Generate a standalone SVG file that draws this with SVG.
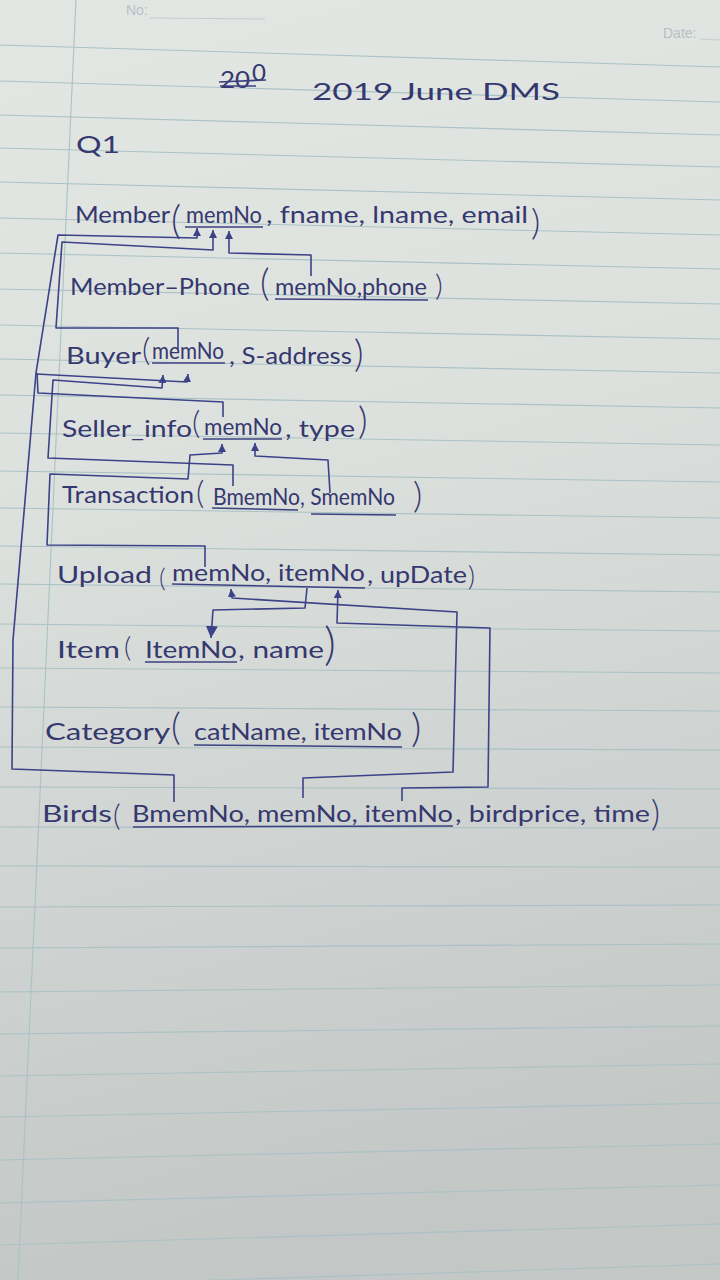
<svg xmlns="http://www.w3.org/2000/svg" width="720" height="1280" viewBox="0 0 720 1280">
  <defs>
    <linearGradient id="paper" x1="0" y1="0" x2="0.15" y2="1">
      <stop offset="0" stop-color="#e3e7e4"/>
      <stop offset="0.4" stop-color="#dde1de"/>
      <stop offset="0.7" stop-color="#cfd3d1"/>
      <stop offset="1" stop-color="#c3c7c5"/>
    </linearGradient>
    <marker id="ah" viewBox="0 0 10 10" refX="10" refY="5" markerWidth="8" markerHeight="8" markerUnits="userSpaceOnUse" orient="auto">
      <path d="M0,0 L10,5 L0,10 z" fill="#3c4288"/>
    </marker>
    <marker id="ahb" viewBox="0 0 10 10" refX="10" refY="5" markerWidth="12" markerHeight="12" markerUnits="userSpaceOnUse" orient="auto">
      <path d="M0,0 L10,5 L0,10 z" fill="#3c4288"/>
    </marker>
    <style>
      .rule { stroke:#a9c2c6; stroke-width:1.1; fill:none; }
      .faint { fill:#b6c0c4; font-family:"Liberation Sans", Arial, sans-serif; font-size:14px; }
      .ink { fill:#35386f; font-family:Lato, "DejaVu Sans", sans-serif; font-size:24px; font-weight:400; }
      .par { fill:#35386f; font-family:Lato, "DejaVu Sans", sans-serif; font-weight:300; }
      .ul { stroke:#3c4080; stroke-width:1.5; fill:none; }
      .conn { stroke:#3c4288; stroke-width:1.6; fill:none; stroke-linejoin:round; }
    </style>
  </defs>

  <!-- paper -->
  <rect x="0" y="0" width="720" height="1280" fill="url(#paper)"/>

  <!-- ruled lines -->
  <g id="ruling">
    <line class="rule" x1="0" y1="45" x2="720" y2="67"/>
    <line class="rule" x1="0" y1="81" x2="720" y2="102"/>
    <line class="rule" x1="0" y1="115" x2="720" y2="135"/>
    <line class="rule" x1="0" y1="148" x2="720" y2="167"/>
    <line class="rule" x1="0" y1="182" x2="720" y2="200"/>
    <line class="rule" x1="0" y1="218" x2="720" y2="235"/>
    <line class="rule" x1="0" y1="253" x2="720" y2="269"/>
    <line class="rule" x1="0" y1="289" x2="720" y2="304"/>
    <line class="rule" x1="0" y1="325" x2="720" y2="339"/>
    <line class="rule" x1="0" y1="359" x2="720" y2="373"/>
    <line class="rule" x1="0" y1="395" x2="720" y2="408"/>
    <line class="rule" x1="0" y1="433" x2="720" y2="445"/>
    <line class="rule" x1="0" y1="471" x2="720" y2="482"/>
    <line class="rule" x1="0" y1="508" x2="720" y2="518"/>
    <line class="rule" x1="0" y1="546" x2="720" y2="555"/>
    <line class="rule" x1="0" y1="584" x2="720" y2="592"/>
    <line class="rule" x1="0" y1="624" x2="720" y2="631"/>
    <line class="rule" x1="0" y1="668" x2="720" y2="673"/>
    <line class="rule" x1="0" y1="707" x2="720" y2="711"/>
    <line class="rule" x1="0" y1="747" x2="720" y2="750"/>
    <line class="rule" x1="0" y1="787" x2="720" y2="789"/>
    <line class="rule" x1="0" y1="827" x2="720" y2="828"/>
    <line class="rule" x1="0" y1="866" x2="720" y2="867"/>
    <line class="rule" x1="0" y1="907" x2="720" y2="905"/>
    <line class="rule" x1="0" y1="948" x2="720" y2="944"/>
    <line class="rule" x1="0" y1="992" x2="720" y2="985"/>
    <line class="rule" x1="0" y1="1034" x2="720" y2="1026"/>
    <line class="rule" x1="0" y1="1076" x2="720" y2="1064"/>
    <line class="rule" x1="0" y1="1117" x2="720" y2="1103"/>
    <line class="rule" x1="0" y1="1160" x2="720" y2="1144"/>
    <line class="rule" x1="0" y1="1203" x2="720" y2="1185"/>
    <line class="rule" x1="0" y1="1245" x2="720" y2="1224"/>
    <line class="rule" x1="0" y1="1287" x2="720" y2="1264"/>
    <!-- margin -->
    <line class="rule" x1="76" y1="0" x2="18" y2="1280"/>
  </g>

  <!-- printed page header -->
  <g id="header">
    <text class="faint" x="126" y="15">No:</text>
    <line x1="150" y1="18" x2="265" y2="19" stroke="#c3cccf" stroke-width="1"/>
    <text class="faint" x="663" y="38" font-size="13">Date:</text>
    <line x1="700" y1="39" x2="720" y2="40" stroke="#c3cccf" stroke-width="1"/>
  </g>

  <!-- title -->
  <g id="title">
    <text class="ink" x="220" y="88" font-size="17" textLength="30" lengthAdjust="spacingAndGlyphs">20</text>
    <text class="ink" x="252" y="81" font-size="11">0</text>
    <line x1="219" y1="82" x2="266" y2="80" stroke="#3c4080" stroke-width="1.6"/>
    <line x1="220" y1="86" x2="256" y2="86" stroke="#3c4080" stroke-width="1.4"/>
    <text class="ink" x="312" y="100" font-size="28" textLength="248" lengthAdjust="spacingAndGlyphs">2019 June DMS</text>
    <text class="ink" x="76" y="153" font-size="23" textLength="44" lengthAdjust="spacingAndGlyphs">Q1</text>
  </g>

  <!-- relations -->
  <g id="member">
    <text class="ink" x="75" y="223" textLength="95" lengthAdjust="spacingAndGlyphs">Member</text>
    <text class="par" x="171" y="234" font-size="39">(</text>
    <text class="ink" x="186" y="223" textLength="76" lengthAdjust="spacingAndGlyphs">memNo</text>
    <text class="ink" x="266" y="223" textLength="262" lengthAdjust="spacingAndGlyphs">, fname, lname, email</text>
    <text class="par" x="531" y="235" font-size="36">)</text>
    <line class="ul" x1="185" y1="227" x2="263" y2="227"/>
  </g>

  <g id="member-phone">
    <text class="ink" x="70" y="295" textLength="180" lengthAdjust="spacingAndGlyphs">Member–Phone</text>
    <text class="par" x="260" y="296" font-size="37">(</text>
    <text class="ink" x="275" y="295" textLength="152" lengthAdjust="spacingAndGlyphs">memNo,phone</text>
    <text class="par" x="435" y="296" font-size="30">)</text>
    <line class="ul" x1="275" y1="299" x2="428" y2="300"/>
  </g>

  <g id="buyer">
    <text class="ink" x="66" y="364" textLength="75" lengthAdjust="spacingAndGlyphs">Buyer</text>
    <text class="par" x="142" y="361" font-size="32">(</text>
    <text class="ink" x="152" y="359" font-size="18" textLength="72" lengthAdjust="spacingAndGlyphs">memNo</text>
    <text class="ink" x="229" y="364" textLength="123" lengthAdjust="spacingAndGlyphs">, S-address</text>
    <text class="par" x="354" y="367" font-size="37">)</text>
    <line class="ul" x1="152" y1="363" x2="225" y2="363"/>
  </g>

  <g id="seller-info">
    <text class="ink" x="62" y="437" textLength="130" lengthAdjust="spacingAndGlyphs">Seller_info</text>
    <text class="par" x="192" y="434" font-size="32">(</text>
    <text class="ink" x="204" y="435" textLength="78" lengthAdjust="spacingAndGlyphs">memNo</text>
    <text class="ink" x="285" y="437" textLength="70" lengthAdjust="spacingAndGlyphs">, type</text>
    <text class="par" x="358" y="434" font-size="37">)</text>
    <line class="ul" x1="203" y1="439" x2="282" y2="439"/>
  </g>

  <g id="transaction">
    <text class="ink" x="62" y="503" textLength="132" lengthAdjust="spacingAndGlyphs">Transaction</text>
    <text class="par" x="196" y="504" font-size="32">(</text>
    <text class="ink" x="213" y="505" font-size="18" textLength="182" lengthAdjust="spacingAndGlyphs">BmemNo, SmemNo</text>
    <text class="par" x="413" y="508" font-size="36">)</text>
    <line class="ul" x1="212" y1="508" x2="298" y2="510"/>
    <line class="ul" x1="311" y1="514" x2="396" y2="515"/>
  </g>

  <g id="upload">
    <text class="ink" x="57" y="583" textLength="95" lengthAdjust="spacingAndGlyphs">Upload</text>
    <text class="par" x="159" y="587" font-size="26">(</text>
    <text class="ink" x="172" y="581" textLength="193" lengthAdjust="spacingAndGlyphs">memNo, itemNo</text>
    <text class="ink" x="367" y="583" textLength="100" lengthAdjust="spacingAndGlyphs">, upDate</text>
    <text class="par" x="468" y="586" font-size="27">)</text>
    <line class="ul" x1="172" y1="584" x2="365" y2="588"/>
  </g>

  <g id="item">
    <text class="ink" x="57" y="658" textLength="63" lengthAdjust="spacingAndGlyphs">Item</text>
    <text class="par" x="124" y="657" font-size="28">(</text>
    <text class="ink" x="145" y="658" textLength="92" lengthAdjust="spacingAndGlyphs">ItemNo</text>
    <text class="ink" x="238" y="658" textLength="86" lengthAdjust="spacingAndGlyphs">, name</text>
    <text class="par" x="324" y="660" font-size="46">)</text>
    <line class="ul" x1="145" y1="662" x2="237" y2="662"/>
  </g>

  <g id="category">
    <text class="ink" x="45" y="740" textLength="125" lengthAdjust="spacingAndGlyphs">Category</text>
    <text class="par" x="171" y="740" font-size="38">(</text>
    <text class="ink" x="194" y="740" textLength="208" lengthAdjust="spacingAndGlyphs">catName, itemNo</text>
    <text class="par" x="411" y="742" font-size="40">)</text>
    <line class="ul" x1="194" y1="745" x2="402" y2="747"/>
  </g>

  <g id="birds">
    <text class="ink" x="42" y="822" textLength="70" lengthAdjust="spacingAndGlyphs">Birds</text>
    <text class="par" x="113" y="826" font-size="29">(</text>
    <text class="ink" x="132" y="822" textLength="321" lengthAdjust="spacingAndGlyphs">BmemNo, memNo, itemNo</text>
    <text class="ink" x="455" y="822" textLength="195" lengthAdjust="spacingAndGlyphs">, birdprice, time</text>
    <text class="par" x="651" y="826" font-size="35">)</text>
    <line class="ul" x1="133" y1="827" x2="453" y2="826"/>
  </g>

  <!-- foreign key connectors -->
  <g id="connectors">
    <!-- Birds.BmemNo up the left edge to Member.memNo -->
    <path class="conn" marker-end="url(#ah)" d="M174,802 L174,775 L12,769 L13,640 L36,373 L58,235 L197,238 L197,228"/>
    <!-- branch to Buyer.memNo -->
    <path class="conn" marker-end="url(#ah)" d="M36,374 L187,382 L188,374"/>
    <!-- Buyer.memNo to Member.memNo -->
    <path class="conn" marker-end="url(#ah)" d="M178,350 L178,328 L56,328 L62,242 L213,250 L213,230"/>
    <!-- Member_Phone.memNo to Member.memNo -->
    <path class="conn" marker-end="url(#ah)" d="M311,276 L311,255 L229,253 L229,231"/>
    <!-- Seller_info.memNo joins the left trunk -->
    <path class="conn" d="M223,417 L223,402 L38,393 L37,373"/>
    <!-- Transaction.BmemNo to Buyer.memNo -->
    <path class="conn" marker-end="url(#ah)" d="M233,486 L233,465 L48,458 L53,380 L162,388 L163,375"/>
    <!-- Upload.memNo to Seller_info.memNo -->
    <path class="conn" marker-end="url(#ah)" d="M205,567 L205,546 L47,545 L50,474 L188,479 L190,455 L222,453 L222,444"/>
    <!-- Transaction.SmemNo to Seller_info.memNo -->
    <path class="conn" marker-end="url(#ah)" d="M330,493 L328,460 L255,456 L255,443"/>
    <!-- Birds.memNo to Upload.memNo -->
    <path class="conn" marker-end="url(#ah)" d="M303,798 L303,778 L453,772 L457,612 L232,598 L231,589"/>
    <!-- Birds.itemNo to Upload.itemNo -->
    <path class="conn" marker-end="url(#ah)" d="M402,801 L402,788 L488,787 L490,628 L337,623 L338,590"/>
    <!-- Upload.itemNo to Item.ItemNo -->
    <path class="conn" marker-end="url(#ahb)" d="M307,588 L305,608 L213,610 L211,638"/>
  </g>
</svg>
